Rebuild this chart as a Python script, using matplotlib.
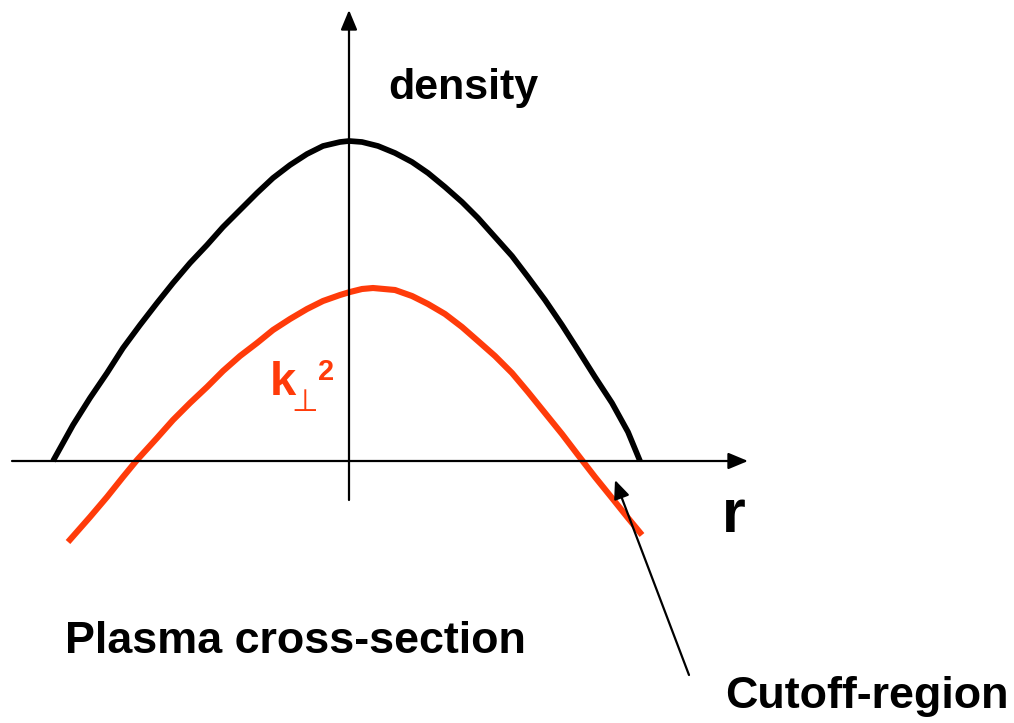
import matplotlib.pyplot as plt

# radius (axis origin at 0)
r_density = [-2.96, -2.76, -2.59, -2.42, -2.26, -2.09, -1.92, -1.76, -1.59, -1.42,
             -1.26, -1.09, -0.92, -0.76, -0.59, -0.42, -0.26, -0.09, 0.0,
             0.13, 0.29, 0.46, 0.63, 0.79, 0.96, 1.13, 1.29, 1.46, 1.63,
             1.79, 1.96, 2.13, 2.29, 2.46, 2.63, 2.79, 2.91]
density = [0.0, 0.36, 0.63, 0.88, 1.13, 1.36, 1.58, 1.78, 1.98, 2.16,
           2.34, 2.51, 2.68, 2.83, 2.96, 3.07, 3.15, 3.19, 3.20,
           3.19, 3.15, 3.08, 2.99, 2.88, 2.74, 2.59, 2.43, 2.24, 2.05,
           1.84, 1.61, 1.36, 1.11, 0.84, 0.58, 0.29, 0.0]

r_kperp = [-2.81, -2.59, -2.42, -2.26, -2.12, -1.92, -1.76, -1.59, -1.42, -1.26,
           -1.09, -0.92, -0.76, -0.59, -0.42, -0.26, -0.09, 0.01,
           0.13, 0.24, 0.46, 0.63, 0.79, 0.96, 1.13, 1.29, 1.46, 1.63,
           1.79, 1.96, 2.13, 2.29, 2.46, 2.63, 2.79, 2.93]
kperp2 = [-0.81, -0.56, -0.36, -0.16, 0.01, 0.23, 0.41, 0.58, 0.74, 0.90,
          1.05, 1.18, 1.31, 1.42, 1.52, 1.60, 1.66, 1.69,
          1.72, 1.73, 1.71, 1.65, 1.57, 1.47, 1.34, 1.20, 1.05, 0.88,
          0.69, 0.48, 0.27, 0.06, -0.16, -0.37, -0.57, -0.74]

RED = "#ff3b0a"
FONT = "Liberation Sans"

fig = plt.figure(figsize=(10.14, 7.23), dpi=100)
ax = fig.add_axes([0, 0, 1, 1])
ax.set_xlim(-3.49, 6.65)
ax.set_ylim(-2.62, 4.61)
ax.axis("off")

# axes with arrow heads
axis_arrow = dict(arrowstyle="-|>,head_length=0.6,head_width=0.25", color="black",
                  lw=1.6, mutation_scale=20, shrinkA=0, shrinkB=0)
ax.annotate("", xy=(3.99, 0), xytext=(-3.37, 0), arrowprops=axis_arrow)
ax.annotate("", xy=(0, 4.51), xytext=(0, -0.39), arrowprops=axis_arrow)

ax.plot(r_density, density, color="black", lw=4.1, solid_capstyle="butt",
        solid_joinstyle="round")
ax.plot(r_kperp, kperp2, color=RED, lw=4.4, solid_capstyle="butt",
        solid_joinstyle="round")

# labels
ax.text(0.39, 3.62, "density", fontsize=31, fontweight="bold", family=FONT)
ax.text(3.73, -0.71, "r", fontsize=44, fontweight="bold", family=FONT)
ax.text(-2.84, -1.92, "Plasma cross-section", fontsize=32.3, fontweight="bold",
        family=FONT)
ax.text(3.76, -2.47, "Cutoff-region", fontsize=32.3, fontweight="bold", family=FONT)

ax.text(-0.79, 0.66, "k", fontsize=34, fontweight="bold", color=RED, family=FONT)
ax.text(-0.44, 0.50, "\u22a5", fontsize=22, color=RED, ha="center",
        family="DejaVu Sans")
ax.text(-0.31, 0.81, "2", fontsize=21, fontweight="bold", color=RED, family=FONT)

# pointer to the cutoff region
ax.annotate("", xy=(2.66, -0.19), xytext=(3.40, -2.14),
            arrowprops=dict(arrowstyle="-|>,head_length=0.7,head_width=0.3",
                            color="black", lw=1.6, mutation_scale=16,
                            shrinkA=0, shrinkB=0))

fig.savefig("out.png", dpi=100)
